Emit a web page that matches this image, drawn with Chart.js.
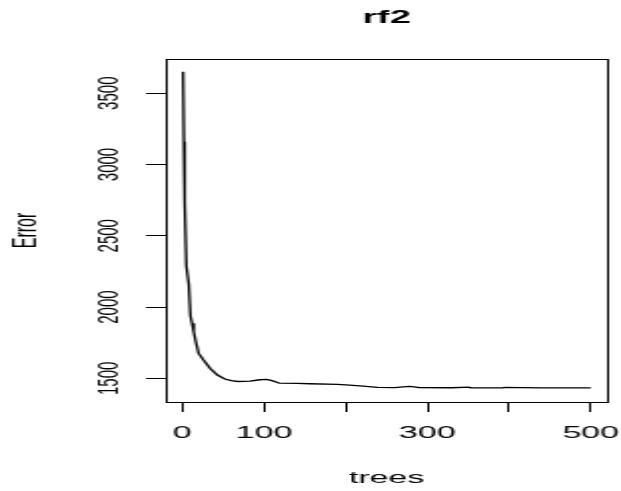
<!DOCTYPE html>
<html>
<head>
<meta charset="utf-8">
<script src="https://cdn.jsdelivr.net/npm/chart.js@4"></script>
<style>
  html, body { margin: 0; padding: 0; background: #fff; overflow: hidden; }
  /* the plot is drawn narrow and widened to the window */
  #wrap { width: 311px; height: 491px; transform: scaleX(1.99678); transform-origin: 0 0; }
</style>
</head>
<body>
<div id="wrap"><canvas id="errChart" width="311" height="491"></canvas></div>
<script>
// OOB error of rf2 as trees are added
const trees = [1, 2, 3, 5, 8, 10, 12, 14, 17, 20, 26, 34, 43, 52, 60, 68, 83, 95, 103, 110, 119,
  141, 156, 190, 205, 221, 239, 260, 278, 284, 290, 330, 351, 353, 392, 395, 440, 500];
const oobError = [3650, 3160, 2732, 2288, 2160, 1937, 1886, 1827, 1746, 1675, 1628, 1570, 1523, 1495,
  1484, 1478, 1480, 1490, 1493, 1484, 1466, 1464, 1462, 1458, 1452, 1446, 1436, 1435, 1443, 1440,
  1435, 1434, 1438, 1434, 1433, 1436, 1433, 1433];

const xTickValues = [0, 100, 200, 300, 400, 500];
const xTickLabels = ['0', '100', '', '300', '', '500'];
const yTickValues = [1500, 2000, 2500, 3000, 3500];
const yTickLabels = ['1500', '2000', '2500', '3000', '3500'];

const FONT = "'Liberation Sans', Arial, sans-serif";

// box around the plotting region, like R's box()
const plotBox = {
  id: 'plotBox',
  afterDraw(chart) {
    const { ctx, chartArea: a } = chart;
    ctx.save();
    ctx.strokeStyle = '#000';
    ctx.lineWidth = 1;
    ctx.strokeRect(Math.round(a.left) + 0.5, Math.round(a.top) + 0.5,
      Math.round(a.right - a.left), Math.round(a.bottom - a.top));
    ctx.restore();
  }
};

new Chart(document.getElementById('errChart'), {
  type: 'scatter',
  data: {
    datasets: [{
      data: trees.map((t, i) => ({ x: t, y: oobError[i] })),
      showLine: true,
      borderColor: '#000',
      borderWidth: 1.3,
      pointRadius: 0,
      tension: 0
    }]
  },
  options: {
    responsive: false,
    animation: false,
    devicePixelRatio: 1,
    layout: { padding: { left: 0, right: 7, top: 0, bottom: 0 } },
    plugins: {
      legend: { display: false },
      tooltip: { enabled: false },
      title: {
        display: true,
        text: 'rf2',
        fullSize: false,
        color: '#000',
        font: { family: FONT, size: 19, weight: 'bold' },
        padding: { top: 6.6, bottom: 29.6 }
      }
    },
    scales: {
      x: {
        type: 'linear',
        min: -19.96,
        max: 519.96,
        afterBuildTicks: s => { s.ticks = xTickValues.map(v => ({ value: v })); },
        // fixed axis height; labels may overhang the plot edges
        afterFit: s => { s.height = 89; s.paddingLeft = 0; s.paddingRight = 0; },
        grid: { drawOnChartArea: false, drawTicks: true, tickLength: 10, color: '#000', lineWidth: 1 },
        border: { display: false },
        ticks: {
          autoSkip: false,
          maxRotation: 0,
          padding: 11.5,
          color: '#000',
          font: { family: FONT, size: 17 },
          callback: (v, i) => xTickLabels[i]
        },
        title: {
          display: true,
          text: 'trees',
          color: '#000',
          font: { family: FONT, size: 17 },
          padding: { top: 0, bottom: 2 }
        }
      },
      y: {
        type: 'linear',
        min: 1334,
        max: 3740,
        afterBuildTicks: s => { s.ticks = yTickValues.map(v => ({ value: v })); },
        afterFit: s => { s.width = 83.1; s.paddingTop = 0; s.paddingBottom = 0; },
        grid: { drawOnChartArea: false, drawTicks: true, tickLength: 10, color: '#000', lineWidth: 1 },
        border: { display: false },
        ticks: {
          autoSkip: false,
          minRotation: 90,
          maxRotation: 90,
          crossAlign: 'center',
          padding: 1.5,
          color: '#000',
          font: { family: FONT, size: 15 },
          callback: (v, i) => yTickLabels[i]
        },
        title: {
          display: true,
          text: 'Error',
          color: '#000',
          font: { family: FONT, size: 16 },
          padding: { top: 4, bottom: 0 }
        }
      }
    }
  },
  plugins: [plotBox]
});
</script>
</body>
</html>
